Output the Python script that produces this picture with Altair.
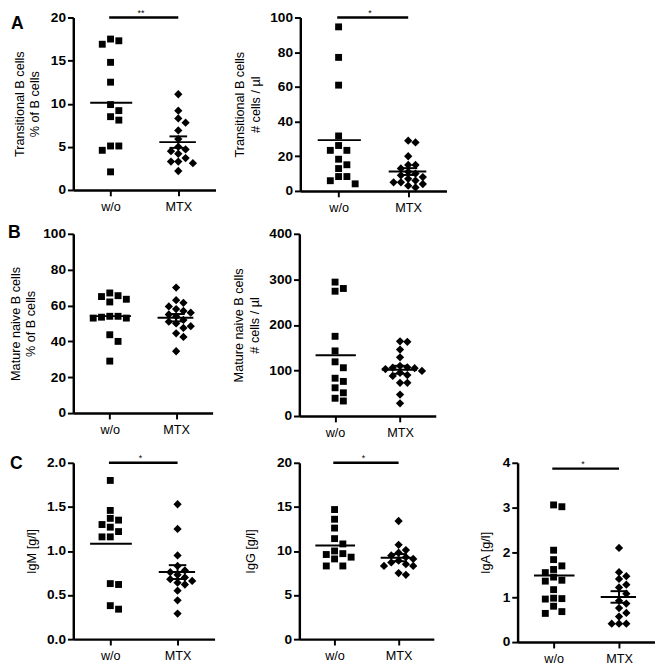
import altair as alt
import numpy as np
import pandas as pd

groups = ["w/o", "MTX"]

trans_pct_wo = [17.5, 17.3, 16.9, 14.8, 12.5, 9.9, 9.2, 8.5, 8.1, 5.1, 5.1, 4.6, 2.1]
trans_pct_mtx = [11.1, 9.2, 8.3, 7.8, 6.9, 5.9, 5.0, 4.7, 4.5, 4.2, 3.7, 3.3, 3.3, 3.1, 2.2]
trans_abs_wo = [94.6, 77, 61, 31.7, 26.2, 23.4, 23.4, 18.3, 15.1, 12.9, 8.3, 8.3, 5.9, 4.1]
trans_abs_mtx = [29, 28, 20, 15, 15, 13, 11, 10, 9, 8, 7, 6, 5, 5, 4, 3, 2]
naive_pct_wo = [67, 65.5, 65, 63.5, 62, 54, 54, 53.5, 53, 53, 43.7, 40, 29]
naive_pct_mtx = [70, 63, 61.5, 59.5, 58, 57, 56, 55, 54, 52, 51, 50, 48.5, 47.5, 44.5, 42.5, 34.5]
naive_abs_wo = [294, 280, 274, 175, 143, 119, 106, 83, 76, 62, 51, 39, 33]
naive_abs_mtx = [164, 163, 146, 129, 110, 107, 106, 105, 103, 99, 95, 90, 88, 73, 73, 47, 28]
igm_wo = [1.80, 1.46, 1.37, 1.35, 1.30, 1.27, 1.22, 1.16, 1.16, 0.63, 0.62, 0.38, 0.34]
igm_mtx = [1.53, 1.25, 0.95, 0.83, 0.78, 0.76, 0.73, 0.70, 0.68, 0.66, 0.64, 0.62, 0.55, 0.44, 0.29]
igg_wo = [14.7, 13.6, 12.6, 11.4, 10.8, 10.0, 9.7, 9.6, 9.3, 9.1, 8.3, 8.3]
igg_mtx = [13.4, 10.7, 10.1, 9.8, 9.5, 9.3, 9.1, 8.9, 8.7, 8.5, 8.3, 8.3, 7.5, 7.3]
iga_wo = [3.06, 3.02, 2.05, 1.84, 1.70, 1.62, 1.55, 1.45, 1.38, 1.36, 1.17, 0.98, 0.97, 0.96, 0.80, 0.68, 0.64]
iga_mtx = [2.10, 1.56, 1.47, 1.41, 1.28, 1.22, 1.08, 0.92, 0.86, 0.76, 0.65, 0.57, 0.41, 0.41, 0.41]

XDOM = [-0.55, 1.55]
FONT = "Liberation Sans"


def swarm(vals, ppu_y, ppu_x, step, ycol):
    order = sorted(range(len(vals)), key=lambda i: -vals[i])
    placed = []
    offs = [0.0] * len(vals)
    for i in order:
        y = vals[i] * ppu_y
        x = 0
        for k in [0, 1, -1, 2, -2, 3, -3, 4, -4]:
            x = k * step
            if all(abs(px - x) >= step * 0.95 or abs(py - y) >= ycol for px, py in placed):
                break
        placed.append((x, y))
        offs[i] = x / ppu_x
    return offs


def panel(wo, mtx, ymax, ystep, title, w, h, fmt, sig=None, sig_y=None,
          letter=None, letter_x=-64, letter_y=0, title_pad=8):
    ppu_y = h / ymax
    ppu_x = w / (XDOM[1] - XDOM[0])
    rows = []
    for g, vals, shape, step, ycol in [(0, wo, "square", 8.5, 7.5), (1, mtx, "diamond", 7.5, 6.5)]:
        offs = swarm(vals, ppu_y, ppu_x, step, ycol)
        for v, o in zip(vals, offs):
            rows.append({"x": g + o, "y": v, "shape": shape})
    df = pd.DataFrame(rows)

    xsc = alt.Scale(domain=XDOM, nice=False, zero=False)
    ysc = alt.Scale(domain=[0, ymax], nice=False)
    xaxis = alt.Axis(values=[0, 1], labelExpr="datum.value == 0 ? 'w/o' : 'MTX'",
                     title=None, labelPadding=5)
    yvals = [round(v, 3) for v in np.arange(0, ymax + 1e-9, ystep)]
    yaxis = alt.Axis(values=yvals, format=fmt, title=title, titlePadding=title_pad,
                     labelPadding=2)
    X = alt.X("x:Q", scale=xsc, axis=xaxis)
    Y = alt.Y("y:Q", scale=ysc, axis=yaxis)

    sq = alt.Chart(df[df["shape"] == "square"]).mark_point(
        shape="square", filled=True, size=50, color="black", opacity=1
    ).encode(x=X, y=Y)
    dm = alt.Chart(df[df["shape"] == "diamond"]).mark_point(
        shape="diamond", filled=True, size=72, color="black", opacity=1
    ).encode(x=X, y=Y)

    mw = float(np.mean(wo))
    mm = float(np.mean(mtx))
    sem = float(np.std(mtx, ddof=1) / np.sqrt(len(mtx)))
    means = pd.DataFrame({"x": [-0.3, 0.72], "x2": [0.32, 1.26], "y": [mw, mm]})
    mean_rule = alt.Chart(means).mark_rule(color="black", strokeWidth=2).encode(
        x=X, x2="x2:Q", y=Y)
    err = pd.DataFrame({"x": [1.0], "y": [mm - sem], "y2": [mm + sem]})
    err_rule = alt.Chart(err).mark_rule(color="black", strokeWidth=2).encode(
        x=X, y=Y, y2="y2:Q")
    caps = pd.DataFrame({"x": [0.87, 0.87], "x2": [1.13, 1.13], "y": [mm - sem, mm + sem]})
    cap_rule = alt.Chart(caps).mark_rule(color="black", strokeWidth=2).encode(
        x=X, x2="x2:Q", y=Y)

    layers = [mean_rule, err_rule, cap_rule, sq, dm]
    if sig is not None:
        sdf = pd.DataFrame({"x": [-0.02], "x2": [1.0], "y": [sig_y], "xm": [0.45], "t": [sig]})
        layers.append(alt.Chart(sdf).mark_rule(color="black", strokeWidth=2.5).encode(
            x=X, x2="x2:Q", y=Y))
        layers.append(alt.Chart(sdf).mark_text(
            font=FONT, fontSize=9, baseline="bottom", dy=0, color="black"
        ).encode(x=alt.X("xm:Q", scale=xsc, axis=xaxis), y=Y, text="t:N"))
    if letter is not None:
        ldf = pd.DataFrame({"t": [letter]})
        layers.append(alt.Chart(ldf).mark_text(
            font=FONT, fontSize=18, fontWeight="bold", align="left",
            baseline="alphabetic", color="black"
        ).encode(x=alt.value(letter_x), y=alt.value(letter_y), text="t:N"))
    return alt.layer(*layers).properties(width=w, height=h)


A1 = panel(trans_pct_wo, trans_pct_mtx, 20, 5, ["Transitional B cells", "% of B cells"],
           146, 177, "d", sig="**", sig_y=20, letter="A", letter_x=-64, letter_y=12,
           title_pad=9)
A2 = panel(trans_abs_wo, trans_abs_mtx, 100, 20, ["Transitional B cells", "# cells / µl"],
           150, 178, "d", sig="*", sig_y=100, title_pad=8)
B1 = panel(naive_pct_wo, naive_pct_mtx, 100, 20, ["Mature naive B cells", "% of B cells"],
           143, 184, "d", letter="B", letter_x=-67, letter_y=4, title_pad=5)
B2 = panel(naive_abs_wo, naive_abs_mtx, 400, 100, ["Mature naive B cells", "# cells / µl"],
           140, 187, "d", title_pad=8)
C1 = panel(igm_wo, igm_mtx, 2.0, 0.5, "IgM [g/l]", 145, 181, ".1f", sig="*", sig_y=2.0,
           letter="C", letter_x=-65, letter_y=6, title_pad=8)
C2 = panel(igg_wo, igg_mtx, 20, 5, "IgG [g/l]", 138, 181, "d", sig="*", sig_y=20,
           title_pad=19)
C3 = panel(iga_wo, iga_mtx, 4, 1, "IgA [g/l]", 141, 184, "d", sig="*", sig_y=3.87,
           title_pad=10)

rowA = alt.hconcat(A1, A2, spacing=18)
rowB = alt.hconcat(B1, B2, spacing=20)
rowC = alt.hconcat(alt.hconcat(C1, C2, spacing=31), C3, spacing=47)

chart = alt.vconcat(alt.vconcat(rowA, rowB, spacing=10), rowC, spacing=15).properties(
    padding={"left": 0, "top": -8, "right": 0, "bottom": 0}
).configure_view(stroke=None).configure_axis(
    domainColor="black", domainWidth=2.5, tickColor="black", tickWidth=2, tickSize=6,
    labelColor="black", titleColor="black", labelFont=FONT, titleFont=FONT,
    labelFontSize=14, titleFontSize=13, titleFontWeight="normal", labelFontWeight="bold",
    grid=False, titleLineHeight=16
).configure_axisX(labelFontWeight="normal", labelFontSize=13)

chart.save("out.html", embed_options={"renderer": "svg", "actions": False})
